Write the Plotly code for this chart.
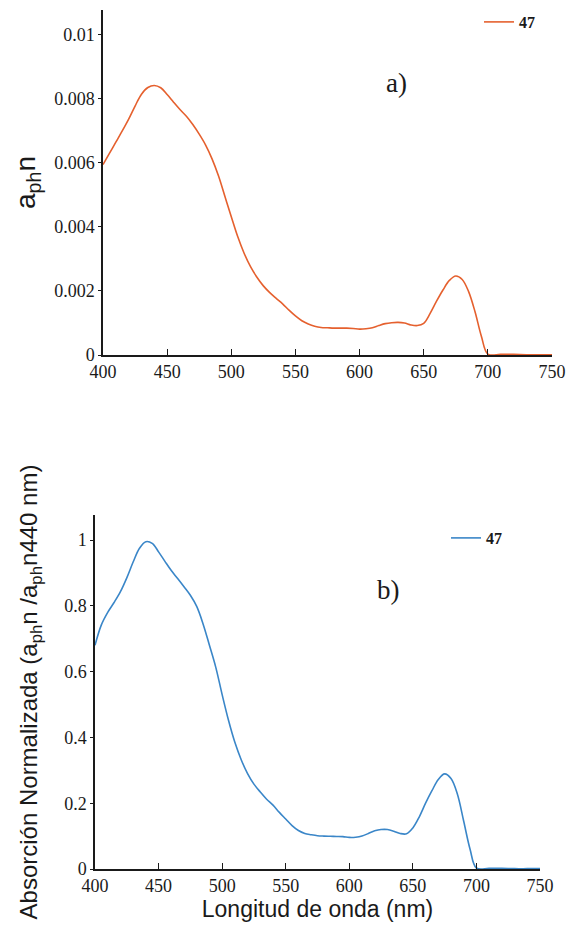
import plotly.graph_objects as go

# ---- data ----
wavelength = [400, 405, 410, 415, 420, 425, 430, 435, 440, 445, 450, 455, 460, 465, 470,
              475, 480, 485, 490, 495, 500, 505, 510, 515, 520, 525, 530, 535, 540, 545,
              550, 555, 560, 565, 570, 575, 580, 585, 590, 595, 600, 605, 610, 615, 620,
              625, 630, 635, 640, 645, 650, 655, 660, 665, 670, 675, 680, 685, 690, 695,
              700, 710, 720, 730, 740, 750]

aph_47 = [0.00595, 0.0063, 0.00665, 0.0070, 0.00737, 0.00778, 0.00815, 0.00836, 0.00842, 0.00835,
          0.00814, 0.0079, 0.00767, 0.00746, 0.0072, 0.0069, 0.00656, 0.00613, 0.0056, 0.00496,
          0.00432, 0.00370, 0.00318, 0.00276, 0.00243, 0.00216, 0.00195, 0.00177, 0.0016, 0.0014,
          0.00122, 0.00107, 0.00097, 0.0009, 0.00086, 0.00085, 0.00084, 0.00084, 0.00084, 0.00083,
          0.00081, 0.00082, 0.00085, 0.00092, 0.00098, 0.00101, 0.00102, 0.0010, 0.00094, 0.00092,
          0.00099, 0.0013, 0.00168, 0.00203, 0.00233, 0.00247, 0.00236, 0.00198, 0.00135, 0.00058,
          0.00003, 0.00002, 0.00002, 0.00001, 0.00001, 0.00001]

norm_47 = [0.68, 0.742, 0.78, 0.81, 0.843, 0.885, 0.933, 0.975, 0.995, 0.99,
           0.964, 0.935, 0.907, 0.883, 0.858, 0.832, 0.798, 0.745, 0.68, 0.613,
           0.53, 0.452, 0.385, 0.332, 0.29, 0.258, 0.234, 0.212, 0.194, 0.172,
           0.152, 0.132, 0.117, 0.108, 0.104, 0.101, 0.10, 0.0995, 0.099, 0.0985,
           0.096, 0.0965, 0.10, 0.108, 0.116, 0.12, 0.12, 0.115, 0.108, 0.107,
           0.125, 0.158, 0.2, 0.238, 0.272, 0.289, 0.275, 0.228, 0.145, 0.06,
           0.003, 0.002, 0.002, 0.001, 0.001, 0.001]

x_ticks = [400, 450, 500, 550, 600, 650, 700, 750]
ya_ticks = [0, 0.002, 0.004, 0.006, 0.008, 0.01]
ya_labels = ["0", "0.002", "0.004", "0.006", "0.008", "0.01"]
yb_ticks = [0, 0.2, 0.4, 0.6, 0.8, 1]
yb_labels = ["0", "0.2", "0.4", "0.6", "0.8", "1"]

W, H = 568, 928
serif = "Liberation Serif"
sans = "Liberation Sans"
ink = "#1a1a1a"

fig = go.Figure()
fig.add_trace(go.Scatter(x=wavelength, y=aph_47, mode="lines", name="47",
                         line=dict(color="#E5602E", width=1.6, shape="spline", smoothing=1.0),
                         xaxis="x", yaxis="y", legend="legend"))
fig.add_trace(go.Scatter(x=wavelength, y=norm_47, mode="lines", name="47",
                         line=dict(color="#3A86C8", width=1.6, shape="spline", smoothing=1.0),
                         xaxis="x2", yaxis="y2", legend="legend2"))

axis_common = dict(showgrid=False, zeroline=False, showline=True, linecolor=ink, linewidth=1.5,
                   tickcolor=ink, tickwidth=1.3,
                   tickfont=dict(family=serif, size=18, color=ink), automargin=False)

fig.update_layout(
    width=W, height=H,
    margin=dict(l=0, r=0, t=0, b=0),
    paper_bgcolor="white", plot_bgcolor="white",
    font=dict(family=serif, color=ink),
    showlegend=True,
    xaxis=dict(domain=[103 / W, 552 / W], range=[400, 750], tickvals=x_ticks,
               ticks="inside", ticklen=6, anchor="y", **axis_common),
    yaxis=dict(domain=[1 - 355 / H, 1 - 10 / H], range=[0, 0.01078], tickvals=ya_ticks,
               ticktext=ya_labels, ticks="outside", ticklen=3, anchor="x",
               title=dict(text="a<sub>ph</sub>n", font=dict(family=sans, size=28, color=ink),
                          standoff=10),
               **axis_common),
    xaxis2=dict(domain=[95 / W, 540 / W], range=[400, 750], tickvals=x_ticks,
                ticks="inside", ticklen=6, anchor="y2",
                title=dict(text="Longitud de onda (nm)", font=dict(family=sans, size=23, color=ink),
                           standoff=6),
                **axis_common),
    yaxis2=dict(domain=[1 - 869 / H, 1 - 515 / H], range=[0, 1.076], tickvals=yb_ticks,
                ticktext=yb_labels, ticks="outside", ticklen=3, anchor="x2",
                title=dict(text="Absorción Normalizada (a<sub>ph</sub>n /a<sub>ph</sub>n440 nm)",
                           font=dict(family=sans, size=24, color=ink), standoff=20),
                **axis_common),
    legend=dict(x=479 / W, y=1 - 22 / H, xanchor="left", yanchor="middle",
                bgcolor="rgba(0,0,0,0)",
                font=dict(family=serif, size=16, color=ink, weight="bold")),
    legend2=dict(x=446 / W, y=1 - 538 / H, xanchor="left", yanchor="middle",
                 bgcolor="rgba(0,0,0,0)",
                 font=dict(family=serif, size=16, color=ink, weight="bold")),
    annotations=[
        dict(text="a)", x=409 / W, y=1 - 66 / H, xref="paper", yref="paper",
             showarrow=False, font=dict(family=serif, size=27, color=ink)),
        dict(text="b)", x=402 / W, y=1 - 590 / H, xref="paper", yref="paper",
             showarrow=False, font=dict(family=serif, size=27, color=ink)),
    ],
)

fig.write_html("out.html")
